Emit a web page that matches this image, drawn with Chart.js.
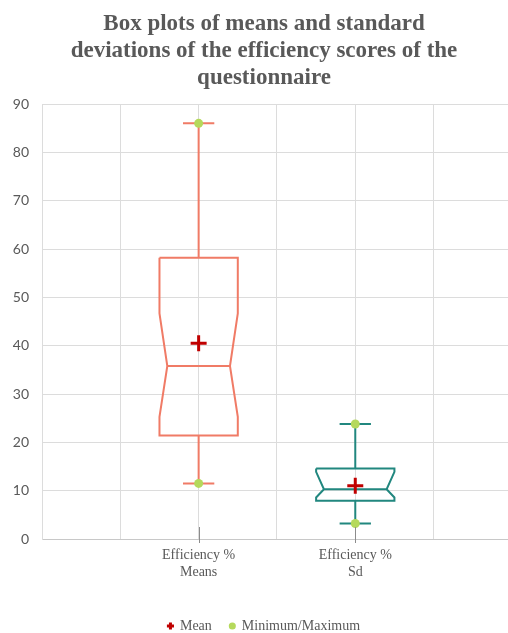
<!DOCTYPE html>
<html>
<head>
<meta charset="utf-8">
<script src="https://cdn.jsdelivr.net/npm/chart.js@4.4.1/dist/chart.umd.min.js"></script>
<style>
  html, body { margin: 0; padding: 0; background: #fff; overflow: hidden; }
  #wrap { width: 508px; height: 633px; }
</style>
</head>
<body>
<div id="wrap"><canvas id="boxChart"></canvas></div>
<script>
// one box per group: five-number summary, notch bounds and mean
const groups = [['Efficiency %', 'Means'], ['Efficiency %', 'Sd']];
const minimums = [11.5, 3.2];
const q1s = [21.4, 7.9];
const medians = [35.8, 10.3];
const q3s = [58.2, 14.6];
const maximums = [86, 23.8];
const means = [40.5, 11.0];
const notchLows = [25.3, 8.6];
const notchHighs = [46.7, 13.9];
const yMax = 90;
const yStep = 10;

const boxColors = ['#f07b66', '#21877f'];
const GRAY = '#595959';
const GRID = '#dcdcdc';

// groups sit on every second x unit
const groupX = (i) => 2 * (i + 1);

const HALF = 0.5;     // half box width
const NOTCH = 0.1;    // notch depth
const CAP = 0.2;      // half whisker-cap width

const gap = { x: null, y: null };

const boxOutline = (i) => {
    const x = groupX(i);
    return [
        { x: x - HALF, y: q3s[i] }, { x: x + HALF, y: q3s[i] },
        { x: x + HALF, y: notchHighs[i] }, { x: x + HALF - NOTCH, y: medians[i] },
        { x: x + HALF, y: notchLows[i] }, { x: x + HALF, y: q1s[i] },
        { x: x - HALF, y: q1s[i] }, { x: x - HALF, y: notchLows[i] },
        { x: x - HALF + NOTCH, y: medians[i] }, { x: x - HALF, y: notchHighs[i] },
        { x: x - HALF, y: q3s[i] },
        gap,
        { x: x - HALF + NOTCH, y: medians[i] }, { x: x + HALF - NOTCH, y: medians[i] },
        gap,
        { x: x, y: q3s[i] }, { x: x, y: maximums[i] },
        gap,
        { x: x - CAP, y: maximums[i] }, { x: x + CAP, y: maximums[i] },
        gap,
        { x: x, y: q1s[i] }, { x: x, y: minimums[i] },
        gap,
        { x: x - CAP, y: minimums[i] }, { x: x + CAP, y: minimums[i] }
    ];
};

const boxSets = groups.map((g, i) => ({
    type: 'line',
    label: g.join(' '),
    data: boxOutline(i),
    borderColor: boxColors[i],
    borderWidth: 2,
    pointRadius: 0,
    spanGaps: false,
    tension: 0,
    fill: false
}));

const meanSet = {
    label: 'Mean',
    data: means.map((m, i) => ({ x: groupX(i), y: m })),
    pointStyle: 'cross',
    pointRadius: 8,
    borderColor: '#c00000',
    backgroundColor: '#c00000',
    borderWidth: 3
};

const minMaxSet = {
    label: 'Minimum/Maximum',
    data: groups.flatMap((g, i) => [
        { x: groupX(i), y: maximums[i] },
        { x: groupX(i), y: minimums[i] }
    ]),
    pointStyle: 'circle',
    pointRadius: 4.5,
    borderWidth: 0,
    borderColor: '#b5d95c',
    backgroundColor: '#b5d95c'
};

// short tick marks crossing the x axis under each group
const groupTicks = {
    id: 'groupTicks',
    afterDraw(chart) {
        const { ctx, chartArea, scales } = chart;
        ctx.save();
        ctx.strokeStyle = '#8c8c8c';
        ctx.lineWidth = 1;
        groups.forEach((g, i) => {
            const px = Math.round(scales.x.getPixelForValue(groupX(i))) + 0.5;
            ctx.beginPath();
            ctx.moveTo(px, chartArea.bottom - 12);
            ctx.lineTo(px, chartArea.bottom + 4);
            ctx.stroke();
        });
        ctx.restore();
    }
};

const ctx = document.getElementById('boxChart').getContext('2d');

new Chart(ctx, {
    type: 'scatter',
    data: { datasets: [meanSet, minMaxSet, ...boxSets] },
    options: {
        responsive: true,
        maintainAspectRatio: false,
        animation: false,
        layout: {
            autoPadding: false,
            padding: { left: 12, right: -8, top: 0, bottom: -10 }
        },
        scales: {
            x: {
                type: 'linear',
                min: 0,
                max: 5.95,
                afterFit: (scale) => {
                    scale.height = 62;
                    scale.paddingLeft = 0;
                    scale.paddingRight = 0;
                },
                grid: { color: GRID, drawTicks: false },
                border: { color: '#c8c8c8' },
                ticks: {
                    stepSize: 1,
                    includeBounds: false,
                    autoSkip: false,
                    maxRotation: 0,
                    padding: 8,
                    color: GRAY,
                    font: { family: '"Liberation Serif", "Times New Roman", serif', size: 14, lineHeight: 1.2 },
                    callback: (value) => {
                        const i = groups.findIndex((g, k) => groupX(k) === value);
                        return i >= 0 ? groups[i] : '';
                    }
                }
            },
            y: {
                min: 0,
                max: yMax,
                afterFit: (scale) => { scale.width = 30; },
                grid: { color: GRID, drawTicks: false },
                border: { color: GRID },
                ticks: {
                    stepSize: yStep,
                    padding: 13,
                    color: GRAY,
                    font: { family: 'Lato, "Open Sans", sans-serif', size: 14 }
                }
            }
        },
        plugins: {
            title: {
                display: true,
                text: [
                    'Box plots of means and standard',
                    'deviations of the efficiency scores of the',
                    'questionnaire'
                ],
                color: GRAY,
                font: { family: '"Liberation Serif", "Times New Roman", serif', size: 23, weight: 'bold', lineHeight: 1.16 },
                padding: { top: 11, bottom: 13 }
            },
            legend: {
                position: 'bottom',
                labels: {
                    usePointStyle: true,
                    boxWidth: 5,
                    boxHeight: 5,
                    padding: 18,
                    color: GRAY,
                    font: { family: '"Liberation Serif", "Times New Roman", serif', size: 14 },
                    filter: (item) => item.datasetIndex < 2
                }
            },
            tooltip: { enabled: false }
        }
    },
    plugins: [groupTicks]
});
</script>
</body>
</html>
